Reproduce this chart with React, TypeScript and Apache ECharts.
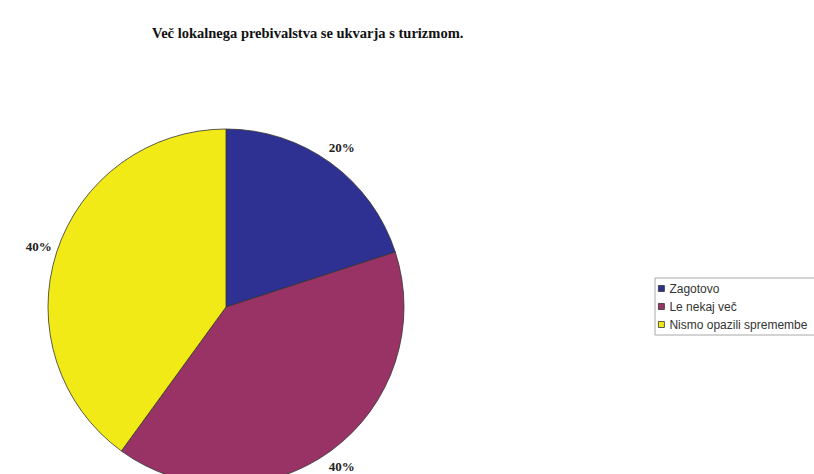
import React, { useEffect, useRef } from "react";
import * as echarts from "echarts";

const titleText = "Več lokalnega prebivalstva se ukvarja s turizmom.";
const categories = ["Zagotovo", "Le nekaj več", "Nismo opazili spremembe"];
const values = [20, 40, 40];
const colors = ["#2e3192", "#993366", "#f2ea16"];

export default function App() {
  const ref = useRef<HTMLDivElement>(null);
  useEffect(() => {
    document.body.style.margin = "0";
    const chart = echarts.init(ref.current!, null, { renderer: "svg" });
    const data = categories.map((name, i) => ({
      name,
      value: values[i],
      itemStyle: { color: colors[i] },
    }));
    chart.setOption({
      animation: false,
      backgroundColor: "#ffffff",
      title: {
        text: titleText,
        left: 147,
        top: 20,
        textStyle: {
          fontFamily: "Liberation Serif",
          fontWeight: "bold",
          fontSize: 14.5,
          color: "#111",
        },
      },
      legend: {
        orient: "vertical",
        left: 655,
        top: 278,
        data: categories,
        icon: "rect",
        itemWidth: 6,
        itemHeight: 6,
        itemGap: 5,
        padding: [4, 60, 4, 3],
        backgroundColor: "#fff",
        borderColor: "#a8a8a8",
        borderWidth: 1,
        itemStyle: { borderColor: "#333", borderWidth: 0.8 },
        textStyle: {
          fontFamily: "Liberation Sans",
          fontSize: 12,
          lineHeight: 13,
          color: "#333",
        },
      },
      series: [
        {
          type: "pie",
          center: [226, 307],
          radius: [0, 178],
          startAngle: 90,
          clockwise: true,
          avoidLabelOverlap: false,
          label: { show: false },
          labelLine: { show: false },
          itemStyle: { borderColor: "#333", borderWidth: 0.8 },
          emphasis: { disabled: true },
          data,
        },
        {
          type: "pie",
          center: [226, 307],
          radius: [184, 204],
          startAngle: 90,
          clockwise: true,
          silent: true,
          avoidLabelOverlap: false,
          itemStyle: { color: "rgba(0,0,0,0)", borderWidth: 0 },
          label: {
            show: true,
            position: "inside",
            formatter: "{d}%",
            fontFamily: "Liberation Serif",
            fontWeight: "bold",
            fontSize: 13,
            color: "#222",
          },
          labelLine: { show: false },
          emphasis: { disabled: true },
          data: categories.map((name, i) => ({ name, value: values[i] })),
        },
      ],
    });
    return () => chart.dispose();
  }, []);
  return (
    <div
      ref={ref}
      style={{ position: "fixed", left: 0, top: 0, width: 814, height: 474 }}
    />
  );
}
